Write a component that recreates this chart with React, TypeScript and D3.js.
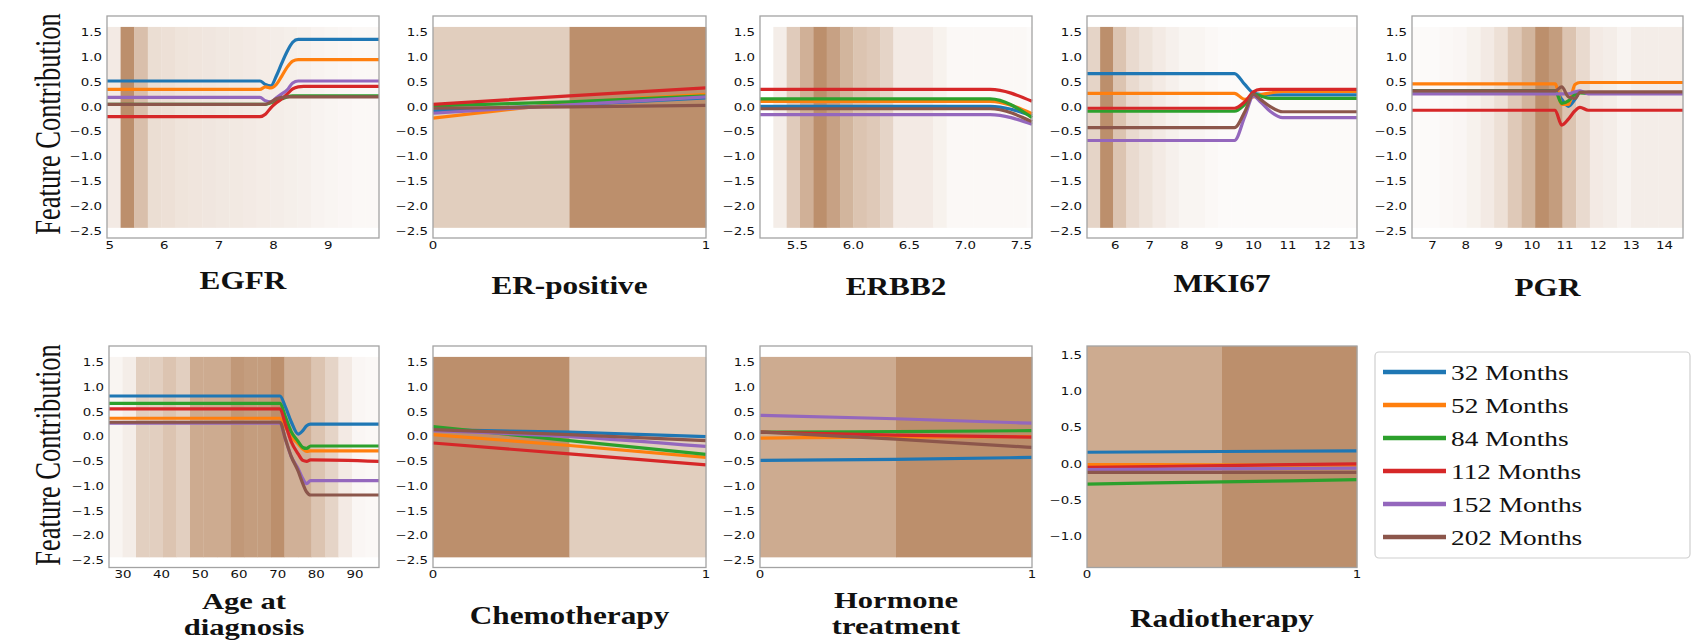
import * as d3 from 'd3';

const seriesNames = ['32 Months', '52 Months', '84 Months', '112 Months', '152 Months', '202 Months'];
const seriesColors = ['#1f77b4', '#ff7f0e', '#2ca02c', '#d62728', '#9467bd', '#8c564b'];

// EGFR
const egfrX = [4.95, 7.75, 7.85, 7.95, 8.05, 8.15, 8.25, 8.35, 8.45, 8.55, 9.93];
const egfrY = [
  [0.52, 0.52, 0.45, 0.42, 0.62, 0.88, 1.12, 1.3, 1.36, 1.36, 1.36],
  [0.35, 0.35, 0.4, 0.38, 0.45, 0.62, 0.8, 0.92, 0.95, 0.95, 0.95],
  [0.05, 0.05, 0.05, 0.08, 0.12, 0.16, 0.2, 0.22, 0.22, 0.22, 0.22],
  [-0.2, -0.2, -0.15, -0.02, 0.08, 0.16, 0.26, 0.36, 0.4, 0.41, 0.41],
  [0.19, 0.19, 0.12, 0.1, 0.18, 0.26, 0.34, 0.48, 0.52, 0.52, 0.52],
  [0.05, 0.05, 0.05, 0.1, 0.16, 0.19, 0.2, 0.2, 0.2, 0.2, 0.2],
];
const egfrDensity = [0.12, 1.0, 0.5, 0.22, 0.2, 0.17, 0.16, 0.15, 0.14, 0.13, 0.12, 0.11, 0.1, 0.09, 0.08, 0.06, 0.05, 0.04, 0.03, 0.03];

// ER-positive
const erX = [0, 0.5, 1];
const erY = [
  [-0.08, 0.04, 0.18],
  [-0.23, 0.07, 0.25],
  [0.02, 0.1, 0.22],
  [0.05, 0.22, 0.38],
  [-0.13, 0.04, 0.2],
  [-0.03, 0.0, 0.03],
];
const erDensity = [0.36, 1.0];

// ERBB2
const erbb2X = [5.167, 7.22, 7.594];
const erbb2Y = [
  [0.01, 0.01, -0.18],
  [0.11, 0.11, -0.14],
  [0.16, 0.16, -0.22],
  [0.35, 0.35, 0.11],
  [-0.16, -0.16, -0.35],
  [-0.04, -0.04, -0.3],
];
const erbb2Density = [0.1, 0.38, 0.65, 1.0, 0.8, 0.6, 0.45, 0.4, 0.3, 0.12, 0.12, 0.12, 0.07, 0.03, 0.03, 0.03, 0.03, 0.03, 0.03, 0.02];

// MKI67
const mki67X = [5.18, 9.45, 9.75, 10.0, 10.2, 10.5, 10.85, 13.0];
const mki67Y = [
  [0.67, 0.67, 0.45, 0.28, 0.25, 0.24, 0.24, 0.24],
  [0.27, 0.27, 0.15, 0.2, 0.24, 0.28, 0.31, 0.31],
  [-0.09, -0.09, 0.05, 0.25, 0.22, 0.17, 0.17, 0.17],
  [-0.03, -0.03, 0.1, 0.3, 0.35, 0.35, 0.35, 0.35],
  [-0.68, -0.68, -0.2, 0.22, 0.1, -0.1, -0.22, -0.22],
  [-0.42, -0.42, -0.1, 0.25, 0.15, 0.0, -0.1, -0.1],
];
const mki67Density = [0.3, 1.0, 0.45, 0.25, 0.18, 0.12, 0.08, 0.05, 0.05, 0.03, 0.02, 0.02, 0.02, 0.02, 0.02, 0.02, 0.02, 0.02, 0.02, 0.02, 0.02];

// PGR
const pgrX = [6.38, 10.7, 10.9, 11.1, 11.3, 11.45, 11.7, 14.56];
const pgrY = [
  [0.32, 0.32, 0.15, 0.01, 0.15, 0.3, 0.28, 0.28],
  [0.46, 0.46, 0.05, 0.05, 0.45, 0.49, 0.49, 0.49],
  [0.32, 0.32, 0.07, 0.12, 0.25, 0.28, 0.27, 0.27],
  [-0.07, -0.07, -0.37, -0.25, -0.08, -0.01, -0.07, -0.07],
  [0.26, 0.26, 0.26, 0.26, 0.3, 0.32, 0.26, 0.26],
  [0.32, 0.32, 0.4, 0.2, 0.17, 0.29, 0.3, 0.3],
];
const pgrDensity = [0.02, 0.02, 0.03, 0.04, 0.07, 0.12, 0.2, 0.4, 0.6, 1.0, 0.85, 0.45, 0.25, 0.12, 0.1, 0.06, 0.1, 0.1, 0.1, 0.1];

// Age at diagnosis
const ageX = [26.4, 70.6, 72, 73.5, 75.3, 76.5, 77.5, 78.5, 96.2];
const ageY = [
  [0.82, 0.82, 0.6, 0.3, 0.05, 0.12, 0.22, 0.25, 0.25],
  [0.37, 0.37, 0.2, 0.0, -0.15, -0.25, -0.3, -0.29, -0.29],
  [0.67, 0.67, 0.4, 0.1, -0.1, -0.22, -0.24, -0.19, -0.19],
  [0.56, 0.56, 0.25, -0.1, -0.35, -0.48, -0.5, -0.47, -0.5],
  [0.27, 0.27, -0.05, -0.4, -0.65, -0.85, -0.95, -0.89, -0.89],
  [0.29, 0.29, -0.05, -0.4, -0.7, -0.95, -1.12, -1.18, -1.18],
];
const ageDensity = [0.05, 0.1, 0.35, 0.35, 0.45, 0.35, 0.7, 0.7, 0.7, 0.9, 0.85, 0.85, 1.0, 0.65, 0.65, 0.45, 0.3, 0.12, 0.04, 0.03];

// Chemotherapy
const chemoX = [0, 0.5, 1];
const chemoY = [
  [0.14, 0.09, 0.0],
  [0.04, -0.18, -0.42],
  [0.2, -0.08, -0.36],
  [-0.13, -0.35, -0.57],
  [0.12, 0.0, -0.2],
  [0.14, 0.04, -0.08],
];
const chemoDensity = [1.0, 0.36];

// Hormone treatment
const hormoneX = [0, 0.5, 1];
const hormoneY = [
  [-0.48, -0.46, -0.42],
  [-0.03, -0.01, 0.0],
  [0.09, 0.1, 0.12],
  [0.09, 0.03, -0.01],
  [0.43, 0.36, 0.27],
  [0.09, -0.05, -0.22],
];
const hormoneDensity = [0.7, 1.0];

// Radiotherapy
const radioX = [0, 0.5, 1];
const radioY = [
  [0.16, 0.17, 0.18],
  [-0.01, -0.015, -0.02],
  [-0.28, -0.25, -0.22],
  [-0.05, -0.025, 0.0],
  [-0.08, -0.07, -0.06],
  [-0.12, -0.12, -0.12],
];
const radioDensity = [0.7, 1.0];

const yTicksMain = [1.5, 1.0, 0.5, 0.0, -0.5, -1.0, -1.5, -2.0, -2.5];
const yTicksRadio = [1.5, 1.0, 0.5, 0.0, -0.5, -1.0];

const baseShade = d3.interpolateRgb('#ffffff', '#bc8f6c');
const shade = (v: number) => baseShade(Math.pow(v, 0.8));
const STRETCH = 1.27;

type Panel = {
  title: string[];
  left: number;
  right: number;
  top: number;
  bottom: number;
  xDomain: [number, number];
  yDomain: [number, number];
  band: [number, number];
  binStart: number;
  binWidth: number;
  density: number[];
  xTicks: number[];
  xFmt: (d: number) => string;
  yTicks: number[];
  xs: number[];
  ys: number[][];
  titleY: number;
};

const fmtInt = d3.format('d');
const fmt1 = d3.format('.1f');

const row1 = { top: 16, bottom: 238 };
const row2 = { top: 346, bottom: 567.5 };
const cols = [
  [107, 379],
  [433, 706],
  [760, 1032],
  [1087, 1357],
  [1412, 1683],
];
const mainY: [number, number] = [-2.645, 1.83];
const mainBand: [number, number] = [-2.44, 1.61];

const panels: Panel[] = [
  { title: ['EGFR'], left: cols[0][0], right: cols[0][1], ...row1, xDomain: [4.95, 9.93], yDomain: mainY, band: mainBand,
    binStart: 4.95, binWidth: 0.249, density: egfrDensity, xTicks: [5, 6, 7, 8, 9], xFmt: fmtInt, yTicks: yTicksMain, xs: egfrX, ys: egfrY, titleY: 289 },
  { title: ['ER-positive'], left: cols[1][0], right: cols[1][1], ...row1, xDomain: [0, 1], yDomain: mainY, band: mainBand,
    binStart: 0, binWidth: 0.5, density: erDensity, xTicks: [0, 1], xFmt: fmtInt, yTicks: yTicksMain, xs: erX, ys: erY, titleY: 294 },
  { title: ['ERBB2'], left: cols[2][0], right: cols[2][1], ...row1, xDomain: [5.167, 7.594], yDomain: mainY, band: mainBand,
    binStart: 5.286, binWidth: 0.119, density: erbb2Density, xTicks: [5.5, 6.0, 6.5, 7.0, 7.5], xFmt: fmt1, yTicks: yTicksMain, xs: erbb2X, ys: erbb2Y, titleY: 295 },
  { title: ['MKI67'], left: cols[3][0], right: cols[3][1], ...row1, xDomain: [5.18, 13.0], yDomain: mainY, band: mainBand,
    binStart: 5.18, binWidth: 0.38, density: mki67Density, xTicks: [6, 7, 8, 9, 10, 11, 12, 13], xFmt: fmtInt, yTicks: yTicksMain, xs: mki67X, ys: mki67Y, titleY: 292 },
  { title: ['PGR'], left: cols[4][0], right: cols[4][1], ...row1, xDomain: [6.38, 14.56], yDomain: mainY, band: mainBand,
    binStart: 6.38, binWidth: 0.413, density: pgrDensity, xTicks: [7, 8, 9, 10, 11, 12, 13, 14], xFmt: fmtInt, yTicks: yTicksMain, xs: pgrX, ys: pgrY, titleY: 296 },
  { title: ['Age at', 'diagnosis'], left: 109, right: cols[0][1], ...row2, xDomain: [26.4, 96.2], yDomain: mainY, band: mainBand,
    binStart: 26.4, binWidth: 3.49, density: ageDensity, xTicks: [30, 40, 50, 60, 70, 80, 90], xFmt: fmtInt, yTicks: yTicksMain, xs: ageX, ys: ageY, titleY: 609 },
  { title: ['Chemotherapy'], left: cols[1][0], right: cols[1][1], ...row2, xDomain: [0, 1], yDomain: mainY, band: mainBand,
    binStart: 0, binWidth: 0.5, density: chemoDensity, xTicks: [0, 1], xFmt: fmtInt, yTicks: yTicksMain, xs: chemoX, ys: chemoY, titleY: 624 },
  { title: ['Hormone', 'treatment'], left: cols[2][0], right: cols[2][1], ...row2, xDomain: [0, 1], yDomain: mainY, band: mainBand,
    binStart: 0, binWidth: 0.5, density: hormoneDensity, xTicks: [0, 1], xFmt: fmtInt, yTicks: yTicksMain, xs: hormoneX, ys: hormoneY, titleY: 608 },
  { title: ['Radiotherapy'], left: cols[3][0], right: cols[3][1], ...row2, xDomain: [0, 1], yDomain: [-1.435, 1.63], band: [-1.435, 1.63],
    binStart: 0, binWidth: 0.5, density: radioDensity, xTicks: [0, 1], xFmt: fmtInt, yTicks: yTicksRadio, xs: radioX, ys: radioY, titleY: 627 },
];

function PanelView({ p }: { p: Panel }) {
  const x = d3.scaleLinear().domain(p.xDomain).range([p.left, p.right]);
  const y = d3.scaleLinear().domain(p.yDomain).range([p.bottom, p.top]);
  const line = d3
    .line<number>()
    .x((_, i) => x(p.xs[i]))
    .y((d) => y(d))
    .curve(d3.curveMonotoneX);
  const cx = (p.left + p.right) / 2;
  const twoLines = p.title.length > 1;
  const titleSize = twoLines ? 23 : 25;
  return (
    <g>
      {/* density shading */}
      {p.density.map((v, i) => {
        const x0 = Math.max(p.xDomain[0], p.binStart + i * p.binWidth);
        const x1 = Math.min(p.xDomain[1], p.binStart + (i + 1) * p.binWidth);
        if (x1 <= x0) return null;
        return (
          <rect
            key={i}
            x={x(x0)}
            width={x(x1) - x(x0) + 0.3}
            y={y(p.band[1])}
            height={y(p.band[0]) - y(p.band[1])}
            fill={shade(v)}
          />
        );
      })}
      {p.ys.map((s, k) => (
        <path key={k} d={line(s) || ''} fill="none" stroke={seriesColors[k]} strokeWidth={3.2} strokeLinejoin="round" />
      ))}
      <rect x={p.left} y={p.top} width={p.right - p.left} height={p.bottom - p.top} fill="none" stroke="#a3a3a3" strokeWidth={1.3} />
      {p.yTicks.map((t) => (
        <text
          key={'y' + t}
          transform={`translate(${p.left - 5},${y(t) + 3.8}) scale(${STRETCH},1)`}
          textAnchor="end"
          fontFamily="DejaVu Sans"
          fontSize={10.5}
          fill="#111"
        >
          {fmt1(t)}
        </text>
      ))}
      {p.xTicks.map((t) => (
        <text
          key={'x' + t}
          transform={`translate(${x(t)},${p.bottom + 10.5}) scale(${STRETCH},1)`}
          textAnchor="middle"
          fontFamily="DejaVu Sans"
          fontSize={10.5}
          fill="#111"
        >
          {p.xFmt(t)}
        </text>
      ))}
      {p.title.map((t, i) => (
        <text
          key={'t' + i}
          transform={`translate(${cx},${p.titleY + i * 25.5}) scale(${twoLines ? 1.33 : 1.25},1)`}
          textAnchor="middle"
          fontFamily="Liberation Serif"
          fontWeight="bold"
          fontSize={titleSize}
          fill="#111"
        >
          {t}
        </text>
      ))}
    </g>
  );
}

export default function App() {
  const legendX = 1375;
  const legendY = 352;
  return (
    <svg width={1693} height={641} style={{ position: 'absolute', left: 0, top: 0, background: '#fff' }}>
      {panels.map((p, i) => (
        <PanelView key={i} p={p} />
      ))}
      {[124, 455].map((cy, i) => (
        <text
          key={i}
          transform={`translate(60,${cy}) rotate(-90) scale(1,1.35)`}
          textAnchor="middle"
          fontFamily="Liberation Serif"
          fontSize={26.5}
          fill="#111"
        >
          Feature Contribution
        </text>
      ))}
      <rect x={legendX} y={legendY} width={315} height={206} rx={4} fill="#fff" stroke="#cfcfcf" strokeWidth={1.2} />
      {seriesNames.map((n, i) => {
        const ly = legendY + 20 + i * 33;
        return (
          <g key={n}>
            <line x1={1383} x2={1446} y1={ly} y2={ly} stroke={seriesColors[i]} strokeWidth={4.5} />
            <text
              transform={`translate(1451,${ly + 7.5}) scale(1.3,1)`}
              fontFamily="Liberation Serif"
              fontSize={21}
              fill="#111"
            >
              {n}
            </text>
          </g>
        );
      })}
    </svg>
  );
}
